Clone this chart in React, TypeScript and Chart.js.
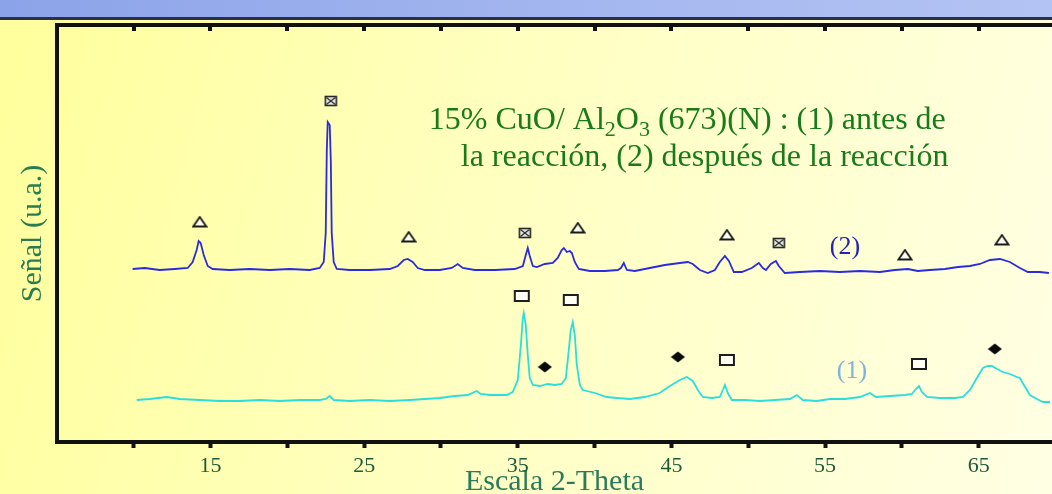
import React, { useEffect, useRef } from "react";
import { Chart, registerables } from "chart.js";

Chart.register(...registerables);

const FONT = '"Liberation Serif", "Times New Roman", serif';

// ---- Curve (2): después de la reacción (2-theta, señal u.a.) ----
const theta2 = [
  9.93, 10.72, 11.69, 12.67, 13.52, 13.84, 14.10, 14.23, 14.36, 14.56,
  14.82, 15.14, 16.25, 17.55, 18.85, 20.16, 21.46, 22.11, 22.37, 22.50,
  22.57, 22.63, 22.76, 22.83, 22.89, 23.02, 23.22, 24.06, 25.36, 26.67,
  27.19, 27.58, 27.84, 28.16, 28.49, 28.95, 29.92, 30.70, 31.09, 31.42,
  32.20, 33.50, 34.80, 35.33, 35.52, 35.65, 35.78, 35.98, 36.24, 36.76,
  37.28, 37.60, 37.86, 38.00, 38.19, 38.39, 38.52, 38.71, 38.97, 39.69,
  40.66, 41.51, 41.71, 41.90, 42.10, 42.62, 43.59, 44.57, 45.55, 46.07,
  46.39, 46.85, 47.37, 47.83, 48.15, 48.48, 48.74, 49.06, 49.58, 50.23,
  50.69, 50.95, 51.15, 51.47, 51.80, 51.99, 52.38, 53.36, 54.66, 55.96,
  57.27, 58.57, 59.54, 60.39, 61.04, 61.82, 62.80, 63.65, 64.43, 65.08,
  65.73, 66.38, 67.03, 67.68, 68.20, 68.98, 69.57,
];
const signal2 = [
  173, 174, 172, 173, 174, 180, 192, 201, 199, 187,
  176, 173, 172, 173, 172, 173, 172, 174, 180, 209,
  292, 320, 317, 282, 209, 180, 173, 172, 172, 173,
  176, 182, 183, 180, 174, 172, 172, 174, 178, 174,
  172, 172, 173, 176, 187, 194, 186, 176, 175, 178,
  179, 184, 192, 194, 190, 191, 189, 180, 173, 171,
  171, 172, 174, 179, 172, 171, 174, 177, 179, 180,
  178, 172, 169, 172, 180, 186, 181, 170, 170, 174,
  179, 174, 172, 178, 181, 176, 169, 170, 171, 170,
  171, 170, 172, 173, 171, 172, 173, 175, 176, 178,
  182, 183, 180, 174, 170, 170, 169,
];

// ---- Curve (1): antes de la reacción ----
const theta1 = [
  10.20, 11.04, 12.15, 13.00, 14.30, 15.60, 16.90, 18.20, 19.51, 20.81,
  22.11, 22.50, 22.76, 23.02, 24.06, 25.36, 26.67, 27.97, 28.95, 29.92,
  30.90, 31.74, 32.33, 32.59, 33.18, 33.83, 34.28, 34.67, 35.00, 35.20,
  35.33, 35.39, 35.52, 35.65, 35.78, 35.98, 36.43, 36.95, 37.41, 37.86,
  38.13, 38.32, 38.45, 38.58, 38.71, 38.84, 39.04, 39.23, 40.01, 40.79,
  41.45, 42.29, 43.27, 44.24, 44.90, 45.55, 46.00, 46.39, 46.72, 47.04,
  47.63, 48.15, 48.35, 48.48, 48.67, 48.93, 49.78, 50.76, 51.73, 52.71,
  53.16, 53.55, 54.47, 55.31, 56.29, 57.27, 57.92, 58.31, 59.22, 60.20,
  60.65, 60.91, 61.11, 61.30, 61.63, 62.47, 63.45, 63.97, 64.43, 64.88,
  65.27, 65.60, 65.86, 66.19, 66.58, 67.03, 67.49, 67.68, 67.94, 68.33,
  68.79, 69.18, 69.64,
];
const signal1 = [
  42, 43, 45, 43, 42, 41, 41, 42, 41, 42,
  42, 43, 46, 42, 41, 42, 41, 42, 43, 44,
  46, 47, 51, 48, 47, 47, 47, 50, 62, 97,
  124, 129, 117, 87, 64, 57, 56, 58, 57, 58,
  64, 92, 112, 120, 107, 77, 57, 52, 49, 45,
  44, 43, 45, 49, 56, 62, 65, 61, 52, 45,
  44, 45, 52, 57, 49, 42, 42, 41, 42, 43,
  47, 42, 41, 43, 43, 45, 49, 45, 46, 47,
  48, 53, 56, 50, 45, 44, 44, 45, 52, 64,
  74, 76, 76, 73, 70, 68, 65, 64, 57, 47,
  43, 40, 40,
];

// ---- Phase markers ----
const triangleTheta = [14.30, 27.90, 38.91, 48.61, 60.20, 66.51];
const triangleSignal = [220, 205, 214, 207, 187, 202];
const crossBoxTheta = [22.83, 35.46, 51.99];
const crossBoxSignal = [341, 209, 199];
const squareTheta = [35.26, 38.45, 48.61, 61.11];
const squareSignal = [146, 142, 82, 78];
const diamondTheta = [36.76, 45.42, 66.05];
const diamondSignal = [75, 85, 93];

// ---- Axis / text ----
const xTickLabels = [15, 25, 35, 45, 55, 65];
const xTitle = "Escala 2-Theta";
const yTitle = "Señal (u.a.)";
const seriesLabelText = ["(1)", "(2)"];
const seriesLabelTheta = [56.75, 56.29];
const seriesLabelSignal = [71, 195];
const titleLine1 = [
  { t: "15% CuO/ Al", sub: false },
  { t: "2", sub: true },
  { t: "O", sub: false },
  { t: "3", sub: true },
  { t: " (673)(N) : (1) antes de", sub: false },
];
const titleLine2 = "la reacción, (2) después de la reacción";
const titleTheta = [29.21, 31.29];
const titleSignal = [313, 276];

function makeMarker(kind: string): HTMLCanvasElement {
  const c = document.createElement("canvas");
  const g = c.getContext("2d") as CanvasRenderingContext2D;
  if (kind === "triangle") {
    c.width = 16; c.height = 13;
    g.beginPath();
    g.moveTo(8, 1.5); g.lineTo(14.5, 11); g.lineTo(1.5, 11); g.closePath();
    g.fillStyle = "#fffff2"; g.fill();
    g.lineWidth = 1.8; g.strokeStyle = "#1a1a1a"; g.stroke();
  } else if (kind === "crossbox") {
    c.width = 14; c.height = 12;
    g.fillStyle = "#e8e8e0"; g.fillRect(1, 1, 12, 10);
    g.lineWidth = 1.6; g.strokeStyle = "#2a2a2a"; g.strokeRect(1.5, 1.5, 11, 9);
    g.beginPath(); g.moveTo(2.5, 2.5); g.lineTo(11.5, 9.5); g.moveTo(11.5, 2.5); g.lineTo(2.5, 9.5);
    g.lineWidth = 1.2; g.stroke();
  } else if (kind === "square") {
    c.width = 18; c.height = 14;
    g.fillStyle = "#fffff6"; g.fillRect(1, 1, 16, 12);
    g.lineWidth = 2; g.strokeStyle = "#1e1e1e"; g.strokeRect(2, 2, 14, 10);
  } else {
    c.width = 15; c.height = 12;
    g.beginPath();
    g.moveTo(7.5, 0.5); g.lineTo(14.5, 6); g.lineTo(7.5, 11.5); g.lineTo(0.5, 6); g.closePath();
    g.fillStyle = "#0a0a0a"; g.fill();
  }
  return c;
}

const toPoints = (xs: number[], ys: number[]) => xs.map((x, i) => ({ x, y: ys[i] }));

const decorPlugin = {
  id: "decor",
  afterDraw(chart: any) {
    const { ctx, chartArea, scales } = chart;
    const x = scales.x;
    const y = scales.y;
    ctx.save();
    // inward ticks on the top frame
    ctx.fillStyle = "#111";
    x.ticks.forEach((t: any) => {
      if (t.value < 9) return;
      const px = x.getPixelForValue(t.value);
      ctx.fillRect(Math.round(px) - 2, chartArea.top, 4, 6);
    });
    // series labels
    ctx.textAlign = "center";
    ctx.textBaseline = "middle";
    ctx.font = `26px ${FONT}`;
    const labelColors = ["#7fb2e0", "#2323b8"];
    seriesLabelText.forEach((s, i) => {
      ctx.fillStyle = labelColors[i];
      ctx.fillText(s, x.getPixelForValue(seriesLabelTheta[i]), y.getPixelForValue(seriesLabelSignal[i]));
    });
    // annotation title
    ctx.textAlign = "left";
    ctx.textBaseline = "alphabetic";
    ctx.fillStyle = "#197a19";
    let px = x.getPixelForValue(titleTheta[0]);
    const py = y.getPixelForValue(titleSignal[0]);
    titleLine1.forEach((seg) => {
      ctx.font = seg.sub ? `22px ${FONT}` : `32px ${FONT}`;
      ctx.fillText(seg.t, px, py + (seg.sub ? 7 : 0));
      px += ctx.measureText(seg.t).width;
    });
    ctx.font = `32px ${FONT}`;
    ctx.fillText(titleLine2, x.getPixelForValue(titleTheta[1]), y.getPixelForValue(titleSignal[1]));
    ctx.restore();
  },
};

export default function App() {
  const ref = useRef<HTMLCanvasElement | null>(null);
  useEffect(() => {
    if (!ref.current) return;
    const tri = makeMarker("triangle");
    const cb = makeMarker("crossbox");
    const sq = makeMarker("square");
    const dm = makeMarker("diamond");
    const markerSet = (data: any, style: any) => ({
      data,
      showLine: false,
      pointStyle: style,
      pointRadius: 6,
      pointHoverRadius: 6,
      borderWidth: 0,
    });
    const chart = new Chart(ref.current, {
      type: "line",
      data: {
        datasets: [
          markerSet(toPoints(triangleTheta, triangleSignal), tri),
          markerSet(toPoints(crossBoxTheta, crossBoxSignal), cb),
          markerSet(toPoints(squareTheta, squareSignal), sq),
          markerSet(toPoints(diamondTheta, diamondSignal), dm),
          {
            data: toPoints(theta2, signal2),
            borderColor: "#2b2bdb",
            borderWidth: 1.8,
            pointRadius: 0,
            tension: 0,
          },
          {
            data: toPoints(theta1, signal1),
            borderColor: "#2adede",
            borderWidth: 1.8,
            pointRadius: 0,
            tension: 0,
          },
        ] as any,
      },
      options: {
        animation: false,
        responsive: false,
        maintainAspectRatio: false,
        events: [],
        layout: { autoPadding: false, padding: { top: 25, left: 0, right: 0, bottom: 0 } },
        plugins: { legend: { display: false }, tooltip: { enabled: false } },
        scales: {
          x: {
            type: "linear",
            position: "bottom",
            min: 5.01,
            max: 69.77,
            afterFit: (s: any) => { s.height = 52; s.paddingRight = 0; s.paddingLeft = 0; },
            ticks: {
              stepSize: 5,
              includeBounds: false,
              autoSkip: false,
              maxRotation: 0,
              padding: 5,
              color: "#1d5a3a",
              font: { family: FONT, size: 22 },
              callback: (v: any) => (xTickLabels.includes(Math.round(Number(v))) ? String(Math.round(Number(v))) : ""),
            },
            grid: { drawOnChartArea: false, drawTicks: true, tickLength: 6, tickWidth: 4, tickColor: "#111" },
            border: { display: true, color: "#111", width: 4 },
            title: {
              display: true,
              text: xTitle,
              color: "#2b7a5b",
              font: { family: FONT, size: 30 },
              padding: { top: 0, bottom: -6 },
            },
          },
          xTop: {
            type: "linear",
            position: "top",
            min: 5.01,
            max: 69.77,
            afterFit: (s: any) => { s.height = 0; s.paddingRight = 0; s.paddingLeft = 0; },
            ticks: { display: false },
            grid: { display: false, drawTicks: false },
            border: { display: true, color: "#111", width: 4 },
          },
          y: {
            type: "linear",
            min: 0,
            max: 417,
            afterFit: (s: any) => { s.width = 57; },
            ticks: { display: false },
            grid: { display: false, drawTicks: false },
            border: { display: true, color: "#111", width: 4 },
            title: {
              display: true,
              text: yTitle,
              color: "#2a7c50",
              font: { family: FONT, size: 30 },
              padding: { top: 15, bottom: 0 },
            },
          },
        },
      } as any,
      plugins: [decorPlugin],
    });
    return () => chart.destroy();
  }, []);

  return (
    <div
      style={{
        position: "fixed",
        left: 0,
        top: 0,
        width: 1052,
        height: 494,
        overflow: "hidden",
        background: "linear-gradient(105deg, #ffff9c 0%, #ffffc0 45%, #ffffe4 100%)",
      }}
    >
      <div
        style={{
          position: "absolute",
          left: 0,
          top: 0,
          width: 1052,
          height: 17,
          background: "linear-gradient(90deg, #8ba3e8 0%, #a6b8f0 60%, #b3c3f3 100%)",
          borderBottom: "3px solid #2b2f48",
        }}
      />
      <canvas ref={ref} width={1052} height={494} style={{ position: "absolute", left: 0, top: 0, width: 1052, height: 494 }} />
    </div>
  );
}
